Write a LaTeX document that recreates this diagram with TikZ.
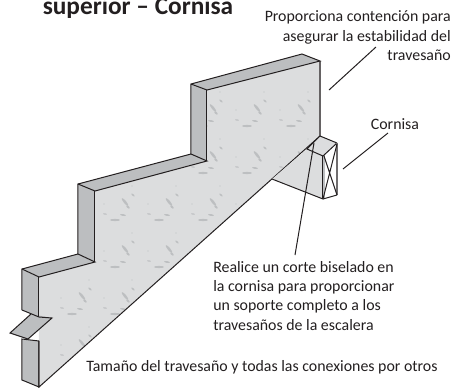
\documentclass[tikz,border=0pt]{standalone}
\usepackage{fontspec}
\setmainfont{Carlito}
\definecolor{faceg}{HTML}{DCDDDE}
\definecolor{sideg}{HTML}{BCBEC0}
\definecolor{speck}{HTML}{BDBFC1}
\definecolor{ink}{HTML}{231F20}
\tikzset{
  x=0.75pt,y=-0.75pt,
  edge/.style={draw=ink,line width=0.75pt,line join=miter},
  leader/.style={draw=ink,line width=0.75pt},
  lbl/.style={inner sep=0pt,text=ink,font=\fontsize{11.9pt}{14.5pt}\selectfont}
}
\newcommand{\speckles}[2]{%
  \begin{scope}[shift={(#1,#2)}]
    \fill[speck] (0,0) ellipse [x radius=5,y radius=1.1];
    \fill[speck,rotate around={-50:(10,-18)}] (10,-18) ellipse [x radius=5,y radius=1.3];
    \fill[speck,rotate around={-40:(18,-25)}] (18,-25) ellipse [x radius=2,y radius=0.8];
    \fill[speck,rotate around={-40:(13,-13)}] (13,-13) ellipse [x radius=2.2,y radius=1];
    \fill[speck,rotate around={-10:(8,-5)}] (8,-5) ellipse [x radius=3,y radius=0.9];
    \fill[speck,rotate around={-10:(-10,-6)}] (-10,-6) ellipse [x radius=2,y radius=0.7];
    \fill[speck] (-11,-16) circle (0.7);
    \fill[speck] (17,-34) circle (0.6);
  \end{scope}}
\begin{document}
\begin{tikzpicture}
\useasboundingbox (0,0) rectangle (455,387);
\coordinate (a1) at (207,90); \coordinate (a2) at (320,61);
\coordinate (a3) at (320,136); \coordinate (a4) at (39,387);
\coordinate (a5) at (39,341); \coordinate (a6) at (39,317);
\coordinate (a7) at (39,277); \coordinate (a8) at (95,262);
\coordinate (a9) at (95,191); \coordinate (a10) at (207,161);
\coordinate (b1) at (191,84); \coordinate (b2) at (302,54);
\coordinate (b3) at (191,154); \coordinate (b4) at (78,184);
\coordinate (b5) at (78,254); \coordinate (b6) at (22,269);
\fill[faceg] (a1)--(a2)--(a3)--(a4)--(a5)--(39,329)--(52,318)--(a6)--(a7)--(a8)--(a9)--(a10)--cycle;
\begin{scope}
\clip (a1)--(a2)--(a3)--(a4)--(a5)--(39,329)--(52,318)--(a6)--(a7)--(a8)--(a9)--(a10)--cycle;
\foreach \p in {72,115,159,203,247,291}{\foreach \q in {126,173,220,267,314,361}{\speckles{\p}{\q}}}
\end{scope}
\fill[sideg] (b1)--(a1)--(a10)--(b3)--cycle;
\fill[sideg] (b3)--(a10)--(a9)--(b4)--cycle;
\fill[sideg] (b4)--(a9)--(a8)--(b5)--cycle;
\fill[sideg] (b5)--(a8)--(a7)--(b6)--cycle;
\fill[sideg] (b6)--(a7)--(a6)--(22,310)--cycle;
\fill[sideg] (22,339)--(39,341)--(a4)--(22,380)--cycle;
\fill[sideg] (b1)--(b2)--(a2)--(a1)--cycle;
\fill[sideg] (10,333)--(28,339)--(52,318)--(31,314)--cycle;
\path[edge] (a1)--(a10) (a9)--(a8) (a7)--(a6);
\path[edge] (a5)--(a4)--(a3);
\draw[edge,line width=1pt,draw=ink!70] (a2)--(a3);
\path[edge] (22,310)--(22,269)--(78,254)--(78,184)--(191,154)--(191,84)--(302,54)--(320,61)--(207,90)--(191,84);
\path[edge] (22,269)--(39,277)--(95,262)--(78,254);
\path[edge] (78,184)--(95,191)--(207,161)--(191,154);
\path[edge] (22,310)--(39,317)--(52,318)--(28,339)--(10,333)--(31,314);
\path[edge] (22,339)--(39,341)--(39,387)--(22,380)--cycle;
% cornice
\fill[faceg] (307,149)--(320,136)--(337,143)--(323,156)--cycle;
\fill[faceg] (307,149)--(323,156)--(323,199)--(272,179)--cycle;
\fill[sideg] (322.5,156)--(325,154)--(325,198)--(322.5,199)--cycle;
\path[edge] (272,179)--(323,199)--(337,195);
\path[edge] (337,143)--(320,136)--(307,149)--(323,156)--(337,143);
\path[edge] (323,156)--(323,199);
\draw[edge,line width=1.1pt,draw=ink!65] (337,143)--(337,195);
\path[edge] (324,156)--(337,195) (337,144)--(323,199);
% labels
\node[inner sep=0pt,text=ink,font=\bfseries\fontsize{19pt}{21pt}\selectfont,anchor=base] (title) at (138,14) {superior – Cornisa};
\node[lbl,align=right,anchor=north east] (t1) at (451,10.5) {Proporciona contención para\\asegurar la estabilidad del\\travesaño};
\node[lbl,anchor=center] (t2) at (395,124) {Cornisa};
\node[lbl,align=left,anchor=north west] (t3) at (213,261) {Realice un corte biselado en\\la cornisa para proporcionar\\un soporte completo a los\\travesaños de la escalera};
\node[lbl,anchor=center] (t4) at (262,367) {Tamaño del travesaño y todas las conexiones por otros};
\coordinate (l1a) at (376,47); \coordinate (l1b) at (329,90);
\coordinate (l2a) at (388,133); \coordinate (l2b) at (343,169);
\coordinate (l3a) at (314,143); \coordinate (l3b) at (295,255);
\draw[leader] (l1a)--(l1b);
\draw[leader] (l2a)--(l2b);
\draw[leader] (l3a)--(l3b);
\end{tikzpicture}
\end{document}
